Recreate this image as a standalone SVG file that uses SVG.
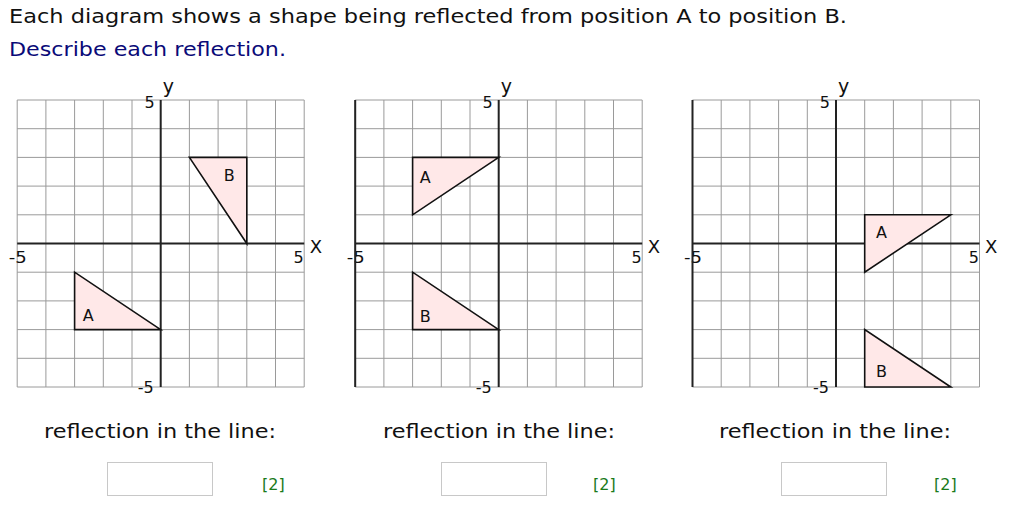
<svg xmlns="http://www.w3.org/2000/svg" xmlns:xlink="http://www.w3.org/1999/xlink" width="1009" height="529" viewBox="0 0 1009 529">
<style>
text{font-family:"DejaVu Sans",Verdana,sans-serif;}
.gl{stroke:#9a9a9a;stroke-width:1;fill:none;}
.ax{stroke:#222;stroke-width:2;fill:none;}
.tri{fill:#ffe8e8;stroke:#111;stroke-width:1.6;stroke-linejoin:miter;}
.lab{font-size:16px;fill:#111;}
.tl{font-size:16px;fill:#111;}
.q{font-size:20px;fill:#111;}
.box{fill:#fff;stroke:#c8c8c8;stroke-width:1;}
.mk{font-size:16px;fill:#1a7a1a;}
</style>
<defs>
<g id="grid">
<path class="gl" d="M-143.5,-143.5V143.5M-114.8,-143.5V143.5M-86.1,-143.5V143.5M-57.4,-143.5V143.5M-28.7,-143.5V143.5M28.7,-143.5V143.5M57.4,-143.5V143.5M86.1,-143.5V143.5M114.8,-143.5V143.5M143.5,-143.5V143.5M-143.5,-143.5H143.5M-143.5,-114.8H143.5M-143.5,-86.1H143.5M-143.5,-57.4H143.5M-143.5,-28.7H143.5M-143.5,28.7H143.5M-143.5,57.4H143.5M-143.5,86.1H143.5M-143.5,114.8H143.5M-143.5,143.5H143.5"/>
<path class="ax" d="M-143.5,0H143.5M0,-143.5V143.5"/>
<text class="lab" x="-6" y="-136" text-anchor="end">5</text>
<text class="lab" x="2" y="-151" style="font-size:19px">y</text>
<text class="lab" x="-152" y="19.5" textLength="18" lengthAdjust="spacingAndGlyphs">-5</text>
<text class="lab" x="143" y="19.5" text-anchor="end">5</text>
<text class="lab" x="149" y="9.5" style="font-size:18px">X</text>
<text class="lab" x="-7" y="149" text-anchor="end">-5</text>
</g>
</defs>
<g id="title">
<text class="q" x="9" y="23" textLength="838" lengthAdjust="spacingAndGlyphs">Each diagram shows a shape being reflected from position A to position B.</text>
<text class="q" x="9" y="56" style="fill:#0a0a78" textLength="277" lengthAdjust="spacingAndGlyphs">Describe each reflection.</text>
</g>
<g id="diagram1" transform="translate(160.7,243.5)">
<use xlink:href="#grid"/>
<polygon class="tri" points="-86.1,28.7 -86.1,86.1 0,86.1"/>
<polygon class="tri" points="28.7,-86.1 86.1,-86.1 86.1,0"/>
<text class="tl" x="-78" y="77">A</text>
<text class="tl" x="63" y="-63">B</text>
</g>
<g id="diagram2" transform="translate(498.7,243.5)">
<use xlink:href="#grid"/>
<path class="ax" d="M-143.5,-143.5V143.5"/>
<polygon class="tri" points="-86.1,-86.1 0,-86.1 -86.1,-28.7"/>
<polygon class="tri" points="-86.1,28.7 -86.1,86.1 0,86.1"/>
<text class="tl" x="-79" y="-61">A</text>
<text class="tl" x="-79" y="78">B</text>
</g>
<g id="diagram3" transform="translate(836,243.5)">
<use xlink:href="#grid"/>
<path class="ax" d="M-143.5,-143.5V143.5"/>
<polygon class="tri" points="28.7,-28.7 114.8,-28.7 28.7,28.7"/>
<polygon class="tri" points="28.7,86.1 28.7,143.5 114.8,143.5"/>
<text class="tl" x="40" y="-6">A</text>
<text class="tl" x="40" y="133">B</text>
</g>
<g id="answers">
<text class="q" x="44" y="438" textLength="232" lengthAdjust="spacingAndGlyphs">reflection in the line:</text>
<text class="q" x="383" y="438" textLength="232" lengthAdjust="spacingAndGlyphs">reflection in the line:</text>
<text class="q" x="719" y="438" textLength="232" lengthAdjust="spacingAndGlyphs">reflection in the line:</text>
<rect class="box" x="107.5" y="462.5" width="105" height="33"/>
<rect class="box" x="441.5" y="462.5" width="105" height="33"/>
<rect class="box" x="781.5" y="462.5" width="105" height="33"/>
<text class="mk" x="262" y="490">[2]</text>
<text class="mk" x="593" y="490">[2]</text>
<text class="mk" x="934" y="490">[2]</text>
</g>
</svg>
